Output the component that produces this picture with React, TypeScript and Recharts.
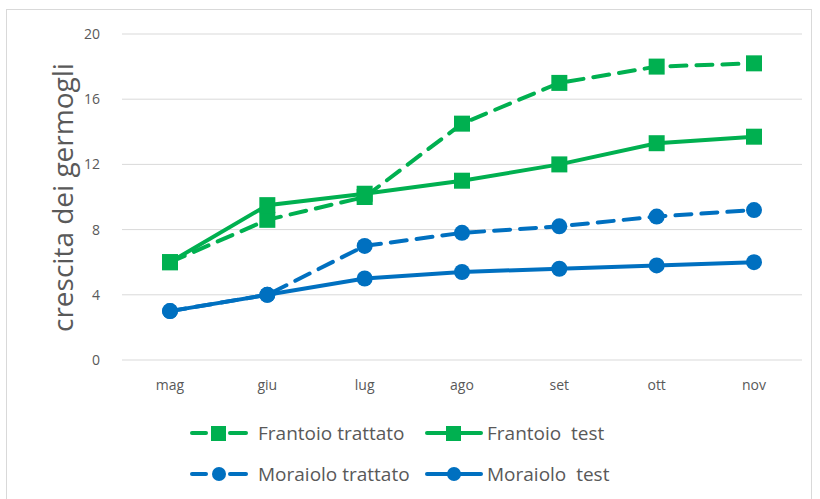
import { LineChart, Line, XAxis, YAxis, CartesianGrid } from 'recharts';

const months = ['mag', 'giu', 'lug', 'ago', 'set', 'ott', 'nov'];
const frantoioTrattato = [6, 8.6, 10, 14.5, 17, 18, 18.2];
const frantoioTest = [6, 9.5, 10.2, 11, 12, 13.3, 13.7];
const moraioloTrattato = [3, 4, 7, 7.8, 8.2, 8.8, 9.2];
const moraioloTest = [3, 4, 5, 5.4, 5.6, 5.8, 6];
const yTicks = [0, 4, 8, 12, 16, 20];

const GREEN = '#00B050';
const BLUE = '#0070C0';
const TEXT = '#595959';
const FONT = '"Open Sans", "Noto Sans", sans-serif';

const data = months.map((m, i) => ({
    name: m,
    ft: frantoioTrattato[i],
    fs: frantoioTest[i],
    mt: moraioloTrattato[i],
    ms: moraioloTest[i],
}));

const series = [
    { key: 'ft', label: 'Frantoio trattato', color: GREEN, dashed: true, shape: 'square' },
    { key: 'fs', label: 'Frantoio  test', color: GREEN, dashed: false, shape: 'square' },
    { key: 'mt', label: 'Moraiolo trattato', color: BLUE, dashed: true, shape: 'circle' },
    { key: 'ms', label: 'Moraiolo  test', color: BLUE, dashed: false, shape: 'circle' },
];

const makeDot = (color: string, shape: string) => (props: any) => {
    const { cx, cy, index } = props;
    if (cx == null || cy == null) return <g key={index} />;
    if (shape === 'square') {
        return <rect key={index} x={cx - 8} y={cy - 8} width={16} height={16} fill={color} />;
    }
    return <circle key={index} cx={cx} cy={cy} r={8} fill={color} />;
};

const LegendIcon = ({ color, dashed, shape }: any) => (
    <svg width={58} height={16} style={{ display: 'block', flex: 'none' }}>
        {dashed ? (
            <>
                <line x1={2} y1={8} x2={16} y2={8} stroke={color} strokeWidth={4} strokeLinecap="round" />
                <line x1={40} y1={8} x2={56} y2={8} stroke={color} strokeWidth={4} strokeLinecap="round" />
            </>
        ) : (
            <line x1={2} y1={8} x2={56} y2={8} stroke={color} strokeWidth={4} strokeLinecap="round" />
        )}
        {shape === 'square' ? (
            <rect x={21} y={1} width={15} height={15} fill={color} />
        ) : (
            <circle cx={29} cy={8} r={7} fill={color} />
        )}
    </svg>
);

export default function App() {
    return (
        <div style={{ position: 'absolute', left: 0, top: 0, width: 820, height: 499, background: '#fff', fontFamily: FONT }}>
            <div style={{ position: 'absolute', left: 6, top: 9, width: 806, height: 500, border: '1px solid #d9d9d9', boxSizing: 'border-box' }} />
            <LineChart
                width={820}
                height={499}
                data={data}
                margin={{ top: 34, right: 18, left: 62, bottom: 109 }}
            >
                <CartesianGrid vertical={false} stroke="#d9d9d9" strokeWidth={1} />
                <XAxis
                    dataKey="name"
                    axisLine={false}
                    tickLine={false}
                    height={30}
                    padding={{ left: 48, right: 48 }}
                    tick={{ fill: TEXT, fontSize: 14, fontFamily: FONT }}
                    tickMargin={14}
                />
                <YAxis
                    domain={[0, 20]}
                    ticks={yTicks}
                    axisLine={false}
                    tickLine={false}
                    width={60}
                    tick={{ fill: TEXT, fontSize: 14, fontFamily: FONT }}
                    tickMargin={16}
                    label={{
                        value: 'crescita dei germogli',
                        angle: -90,
                        position: 'insideLeft',
                        dx: -4,
                        dy: 135,
                        style: { fill: TEXT, fontSize: 28, fontFamily: FONT },
                    }}
                />
                {series.map((s) => (
                    <Line
                        key={s.key}
                        type="linear"
                        dataKey={s.key}
                        stroke={s.color}
                        strokeWidth={4}
                        strokeDasharray={s.dashed ? '16 10' : undefined}
                        strokeLinecap="round"
                        dot={makeDot(s.color, s.shape)}
                        activeDot={false}
                        isAnimationActive={false}
                    />
                ))}
            </LineChart>
            <div
                style={{
                    position: 'absolute',
                    left: 190,
                    top: 420,
                    display: 'grid',
                    gridTemplateColumns: '235px 230px',
                    rowGap: 15,
                    color: TEXT,
                    fontSize: 19,
                }}
            >
                {series.map((s, i) => (
                    <div key={s.key} style={{ display: 'flex', alignItems: 'center', height: 26 }}>
                        <LegendIcon color={s.color} dashed={s.dashed} shape={s.shape} />
                        <span style={{ marginLeft: i % 2 === 0 ? 10 : 4, whiteSpace: 'pre' }}>{s.label}</span>
                    </div>
                ))}
            </div>
        </div>
    );
}
